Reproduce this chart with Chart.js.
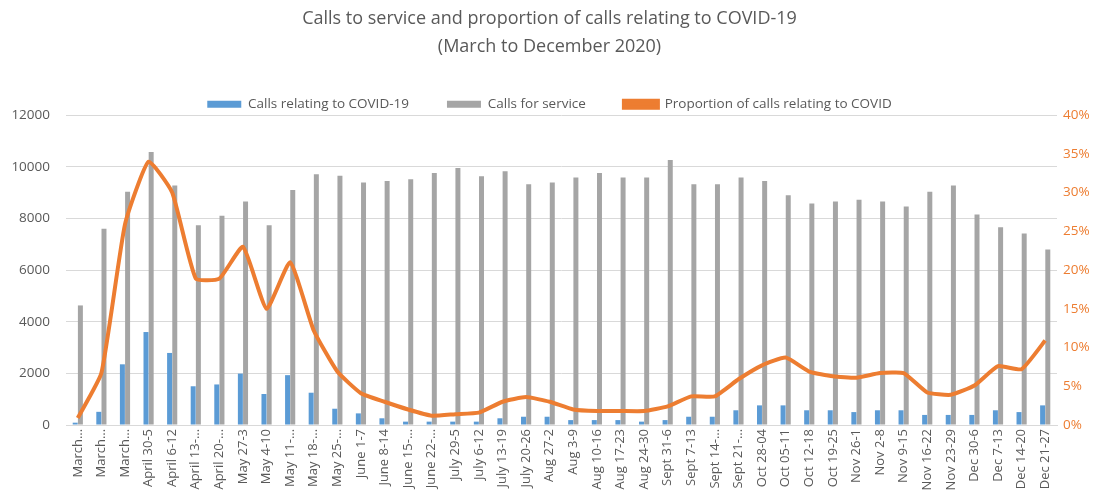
<!DOCTYPE html>
<html lang="en">
<head>
  <meta charset="UTF-8">
  <title>Calls to service and proportion of calls relating to COVID-19</title>
  <script src="https://cdn.jsdelivr.net/npm/chart.js"></script>
  <style>
    html, body {
      margin: 0;
      padding: 0;
      background: #ffffff;
      overflow: hidden;
    }
    #wrap {
      width: 1099px;
      height: 495px;
    }
  </style>
</head>
<body>
  <div id="wrap">
    <canvas id="chart" width="1099" height="495"></canvas>
  </div>

  <script>
    const weeks = [
      'March…', 'March…', 'March…', 'April 30-5', 'April 6-12', 'April 13-…', 'April 20-…',
      'May 27-3', 'May 4-10', 'May 11-…', 'May 18-…', 'May 25-…', 'June 1-7', 'June 8-14',
      'June 15-…', 'June 22-…', 'July 29-5', 'July 6-12', 'July 13-19', 'July 20-26', 'Aug 27-2',
      'Aug 3-9', 'Aug 10-16', 'Aug 17-23', 'Aug 24-30', 'Sept 31-6', 'Sept 7-13', 'Sept 14-…',
      'Sept 21-…', 'Oct 28-04', 'Oct 05-11', 'Oct 12-18', 'Oct 19-25', 'Nov 26-1', 'Nov 2-8',
      'Nov 9-15', 'Nov 16-22', 'Nov 23-29', 'Dec 30-6', 'Dec 7-13', 'Dec 14-20', 'Dec 21-27'
    ];

    const covidCalls = [
      90, 510, 2350, 3600, 2790, 1500, 1570, 1990, 1200, 1930, 1250, 630, 450, 260,
      130, 130, 130, 130, 260, 320, 320, 190, 190, 190, 130, 190, 320, 320,
      570, 760, 760, 570, 570, 500, 570, 570, 390, 390, 390, 570, 500, 760
    ];

    const serviceCalls = [
      4630, 7600, 9030, 10570, 9270, 7730, 8100, 8650, 7730, 9100, 9710, 9650, 9390, 9450,
      9520, 9760, 9950, 9630, 9830, 9320, 9390, 9580, 9760, 9580, 9580, 10260, 9320, 9320,
      9580, 9450, 8900, 8580, 8650, 8720, 8650, 8460, 9030, 9270, 8150, 7660, 7420, 6800
    ];

    const covidShare = [
      0.009, 0.067, 0.259, 0.340, 0.300, 0.189, 0.189, 0.230, 0.150, 0.210, 0.122, 0.069, 0.041, 0.030,
      0.020, 0.012, 0.014, 0.016, 0.030, 0.036, 0.030, 0.020, 0.018, 0.018, 0.018, 0.024, 0.037, 0.037,
      0.059, 0.077, 0.087, 0.069, 0.063, 0.061, 0.067, 0.067, 0.042, 0.039, 0.051, 0.076, 0.072, 0.109
    ];

    const textGrey = '#595959';
    const fontFamily = '"Open Sans", "Liberation Sans", sans-serif';

    // keep the wide gaps between legend items, trim a little of the space under it
    const trimLegend = {
      id: 'trimLegend',
      beforeLayout(chart) {
        const lg = chart.legend;
        if (lg && !lg._trimmed) {
          const fit = lg.fit;
          lg.fit = function () {
            fit.call(this);
            this.height -= 6;
          };
          lg._trimmed = true;
        }
      }
    };

    const ctx = document.getElementById('chart').getContext('2d');

    new Chart(ctx, {
      data: {
        labels: weeks,
        datasets: [
          {
            type: 'line',
            label: 'Proportion of calls relating to COVID',
            data: covidShare,
            yAxisID: 'yPct',
            borderColor: '#ED7D31',
            backgroundColor: '#ED7D31',
            borderWidth: 4,
            pointRadius: 0,
            tension: 0.15,
            order: 0
          },
          {
            type: 'bar',
            label: 'Calls relating to COVID-19',
            data: covidCalls,
            yAxisID: 'y',
            backgroundColor: '#5B9BD5',
            barPercentage: 0.96,
            categoryPercentage: 0.44,
            order: 1
          },
          {
            type: 'bar',
            label: 'Calls for service',
            data: serviceCalls,
            yAxisID: 'y',
            backgroundColor: '#A5A5A5',
            barPercentage: 0.96,
            categoryPercentage: 0.44,
            order: 2
          }
        ]
      },
      plugins: [trimLegend],
      options: {
        responsive: false,
        animation: false,
        layout: { padding: { top: 4, left: 0, right: 0, bottom: 0 } },
        plugins: {
          title: {
            display: true,
            text: ['Calls to service and proportion of calls relating to COVID-19', '(March to December 2020)'],
            color: textGrey,
            font: { family: fontFamily, size: 18, weight: 'normal', lineHeight: 1.6 },
            padding: { top: 0, bottom: -2 }
          },
          legend: {
            position: 'top',
            labels: {
              color: textGrey,
              font: { family: fontFamily, size: 13.5 },
              boxWidth: 34,
              boxHeight: 7,
              padding: 38,
              sort: (a, b) => [1, 2, 0].indexOf(a.datasetIndex) - [1, 2, 0].indexOf(b.datasetIndex)
            }
          },
          tooltip: { enabled: false }
        },
        scales: {
          x: {
            grid: { display: false, drawTicks: false },
            border: { color: '#D9D9D9' },
            ticks: {
              color: textGrey,
              font: { family: fontFamily, size: 13 },
              maxRotation: 90,
              minRotation: 90,
              autoSkip: false,
              padding: 4
            },
            afterFit: (axis) => { axis.height = 70; }
          },
          y: {
            position: 'left',
            min: 0,
            max: 12000,
            grid: { color: '#D9D9D9', drawTicks: false },
            border: { display: false },
            ticks: {
              stepSize: 2000,
              color: textGrey,
              font: { family: fontFamily, size: 13.5 },
              padding: 16,
              callback: (v) => String(v)
            },
            afterFit: (axis) => { axis.width = 66; }
          },
          yPct: {
            position: 'right',
            min: 0,
            max: 0.4,
            grid: { display: false, drawTicks: false },
            border: { display: false },
            ticks: {
              stepSize: 0.05,
              color: '#ED7D31',
              font: { family: fontFamily, size: 13.5 },
              padding: 6,
              callback: (v) => Math.round(v * 100) + '%'
            },
            afterFit: (axis) => { axis.width = 42; }
          }
        }
      }
    });
  </script>
</body>
</html>
